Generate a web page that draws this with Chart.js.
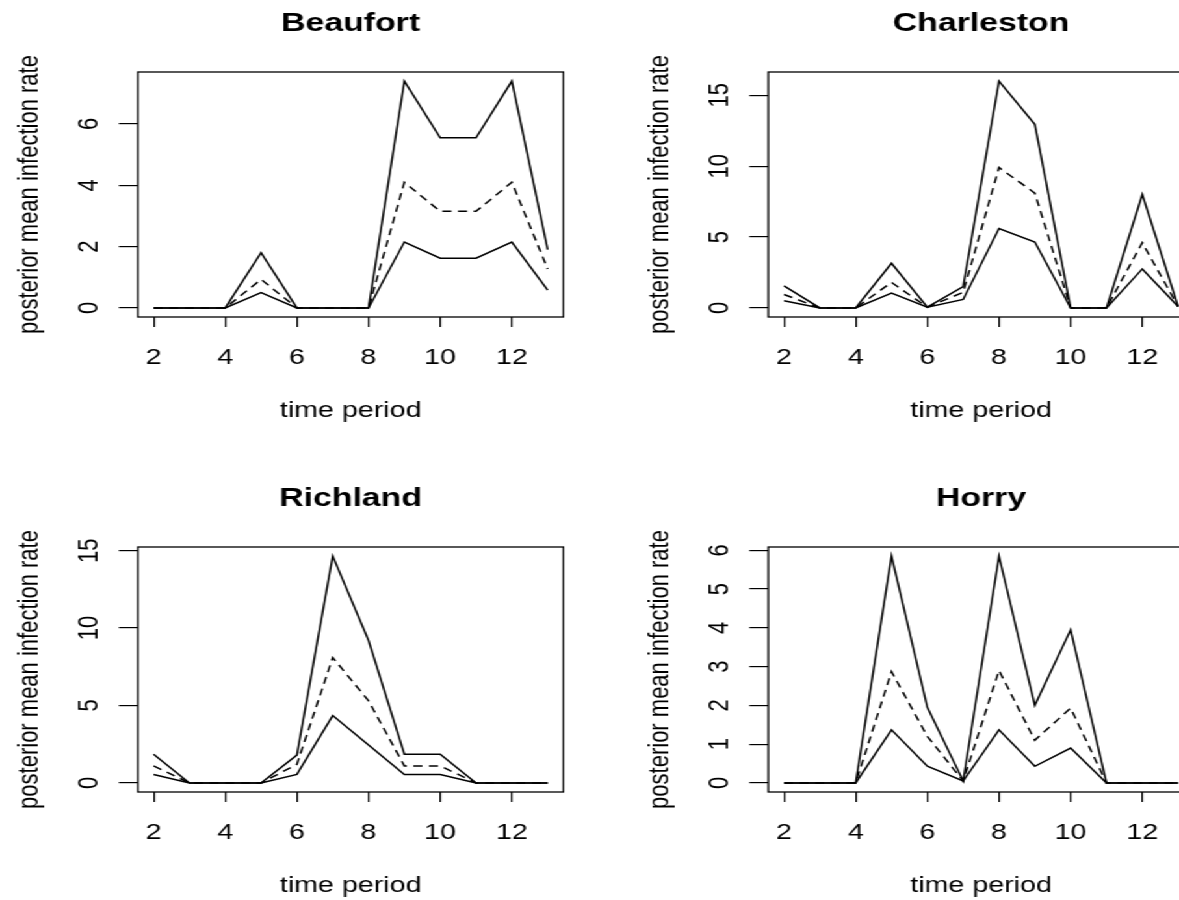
<!DOCTYPE html>
<html>
<head>
<meta charset="utf-8">
<script src="https://cdn.jsdelivr.net/npm/chart.js@4.4.1/dist/chart.umd.min.js"></script>
<style>
    html, body { margin: 0; padding: 0; background: #fff; overflow: hidden; width: 1179px; height: 900px; }
    /* the original picture is stretched sideways, so the whole stage is too */
    #stage { position: absolute; left: 0; top: 0; width: 970px; height: 950px; transform: scaleX(1.3); transform-origin: 0 0; }
    .panel { position: absolute; width: 485px; height: 475px; }
</style>
</head>
<body>
<div id="stage">
    <div class="panel" style="left:0;top:0"><canvas id="beaufort" width="485" height="475"></canvas></div>
    <div class="panel" style="left:485px;top:0"><canvas id="charleston" width="485" height="475"></canvas></div>
    <div class="panel" style="left:0;top:475px"><canvas id="richland" width="485" height="475"></canvas></div>
    <div class="panel" style="left:485px;top:475px"><canvas id="horry" width="485" height="475"></canvas></div>
</div>
<script>
// Time periods and tick labels
const periods = [2, 3, 4, 5, 6, 7, 8, 9, 10, 11, 12, 13];
const xTicks = [2, 4, 6, 8, 10, 12];

// Beaufort
const beaufortUpper = [0, 0, 0, 1.8, 0, 0, 0, 7.4, 5.55, 5.55, 7.4, 1.9];
const beaufortMean  = [0, 0, 0, 0.93, 0, 0, 0, 4.1, 3.15, 3.15, 4.1, 1.27];
const beaufortLower = [0, 0, 0, 0.5, 0, 0, 0, 2.15, 1.62, 1.62, 2.15, 0.58];
const beaufortTicks = [0, 2, 4, 6];

// Charleston
const charlestonUpper = [1.55, 0, 0, 3.15, 0.05, 1.5, 16.0, 12.95, 0, 0, 8.0, 0.1];
const charlestonMean  = [0.95, 0, 0, 1.8, 0.05, 1.1, 9.9, 8.1, 0, 0, 4.6, 0.1];
const charlestonLower = [0.5, 0, 0, 1.05, 0.05, 0.6, 5.6, 4.65, 0, 0, 2.75, 0.1];
const charlestonTicks = [0, 5, 10, 15];

// Richland
const richlandUpper = [1.85, 0, 0, 0, 1.8, 14.65, 9.2, 1.85, 1.85, 0, 0, 0];
const richlandMean  = [1.1, 0, 0, 0, 1.2, 8.1, 5.3, 1.1, 1.1, 0, 0, 0];
const richlandLower = [0.55, 0, 0, 0, 0.55, 4.35, 2.45, 0.55, 0.55, 0, 0, 0];
const richlandTicks = [0, 5, 10, 15];

// Horry
const horryUpper = [0, 0, 0, 5.85, 1.95, 0.05, 5.85, 2.0, 3.95, 0, 0, 0];
const horryMean  = [0, 0, 0, 2.87, 1.2, 0.05, 2.9, 1.1, 1.93, 0, 0, 0];
const horryLower = [0, 0, 0, 1.37, 0.43, 0.05, 1.37, 0.43, 0.9, 0, 0, 0];
const horryTicks = [0, 1, 2, 3, 4, 5, 6];

const fontFamily = '"Liberation Sans", Arial, sans-serif';

// Draws the box round the plot region, like R's box()
const boxPlugin = {
    id: 'plotBox',
    beforeDatasetsDraw(chart) {
        const { ctx, chartArea } = chart;
        ctx.save();
        ctx.strokeStyle = '#000';
        ctx.lineWidth = 1.3;
        ctx.strokeRect(chartArea.left, chartArea.top, chartArea.right - chartArea.left, chartArea.bottom - chartArea.top);
        ctx.restore();
    }
};

// Width of the widest tick label, used to centre the rotated y labels
function widestLabel(labels, size) {
    const ctx = document.createElement('canvas').getContext('2d');
    ctx.font = size + 'px ' + fontFamily;
    return Math.max(...labels.map(l => ctx.measureText(String(l)).width));
}

function toPoints(values) {
    return periods.map((p, i) => ({ x: p, y: values[i] }));
}

function lineDataset(values, dashed) {
    return {
        data: toPoints(values),
        borderColor: '#000',
        borderWidth: 1.5,
        borderDash: dashed ? [7, 5] : [],
        pointRadius: 0,
        tension: 0,
        fill: false
    };
}

function renderPanel(canvasId, title, upper, mean, lower, yTicks) {
    const ctx = document.getElementById(canvasId).getContext('2d');

    // R style ranges: data range widened by 4% on each side
    const all = upper.concat(mean, lower);
    const yMin = Math.min(...all), yMax = Math.max(...all);
    const yPad = (yMax - yMin) * 0.04;
    const xMin = periods[0], xMax = periods[periods.length - 1];
    const xPad = (xMax - xMin) * 0.04;

    const yTickLength = 14.6;
    const yLabelPadding = 37 - yTickLength - widestLabel(yTicks, 22) / 2;

    new Chart(ctx, {
        type: 'line',
        data: {
            datasets: [
                lineDataset(upper, false),
                lineDataset(mean, true),
                lineDataset(lower, false)
            ]
        },
        options: {
            responsive: false,
            animation: false,
            layout: { padding: { left: 0, right: 51.6, top: 0, bottom: 0 } },
            plugins: {
                legend: { display: false },
                tooltip: { enabled: false },
                title: {
                    display: true,
                    text: title,
                    fullSize: false,
                    color: '#000',
                    font: { family: fontFamily, size: 26, weight: 'bold', lineHeight: 1.2 },
                    padding: { top: 8.4, bottom: 32.4 }
                }
            },
            scales: {
                x: {
                    type: 'linear',
                    min: xMin - xPad,
                    max: xMax + xPad,
                    afterBuildTicks: scale => { scale.ticks = xTicks.map(v => ({ value: v })); },
                    afterFit: scale => { scale.height = 158; },
                    border: { display: false },
                    grid: { drawOnChartArea: false, drawTicks: true, tickLength: 10, color: '#000', lineWidth: 1.2 },
                    ticks: { color: '#000', font: { family: fontFamily, size: 22 }, padding: 18, maxRotation: 0, autoSkip: false },
                    title: {
                        display: true,
                        text: 'time period',
                        color: '#000',
                        font: { family: fontFamily, size: 22, lineHeight: 1.2 },
                        padding: { top: 0, bottom: 51 }
                    }
                },
                y: {
                    type: 'linear',
                    min: yMin - yPad,
                    max: yMax + yPad,
                    afterBuildTicks: scale => { scale.ticks = yTicks.map(v => ({ value: v })); },
                    afterFit: scale => { scale.width = 106; },
                    border: { display: false },
                    grid: { drawOnChartArea: false, drawTicks: true, tickLength: yTickLength, color: '#000', lineWidth: 1.2 },
                    ticks: {
                        color: '#000',
                        font: { family: fontFamily, size: 22 },
                        minRotation: 90,
                        maxRotation: 90,
                        crossAlign: 'center',
                        padding: yLabelPadding,
                        autoSkip: false
                    },
                    title: {
                        display: true,
                        text: 'posterior mean infection rate',
                        color: '#000',
                        font: { family: fontFamily, size: 22, lineHeight: 1.2 },
                        padding: { top: 10, bottom: 0 }
                    }
                }
            }
        },
        plugins: [boxPlugin]
    });
}

renderPanel('beaufort', 'Beaufort', beaufortUpper, beaufortMean, beaufortLower, beaufortTicks);
renderPanel('charleston', 'Charleston', charlestonUpper, charlestonMean, charlestonLower, charlestonTicks);
renderPanel('richland', 'Richland', richlandUpper, richlandMean, richlandLower, richlandTicks);
renderPanel('horry', 'Horry', horryUpper, horryMean, horryLower, horryTicks);
</script>
</body>
</html>
